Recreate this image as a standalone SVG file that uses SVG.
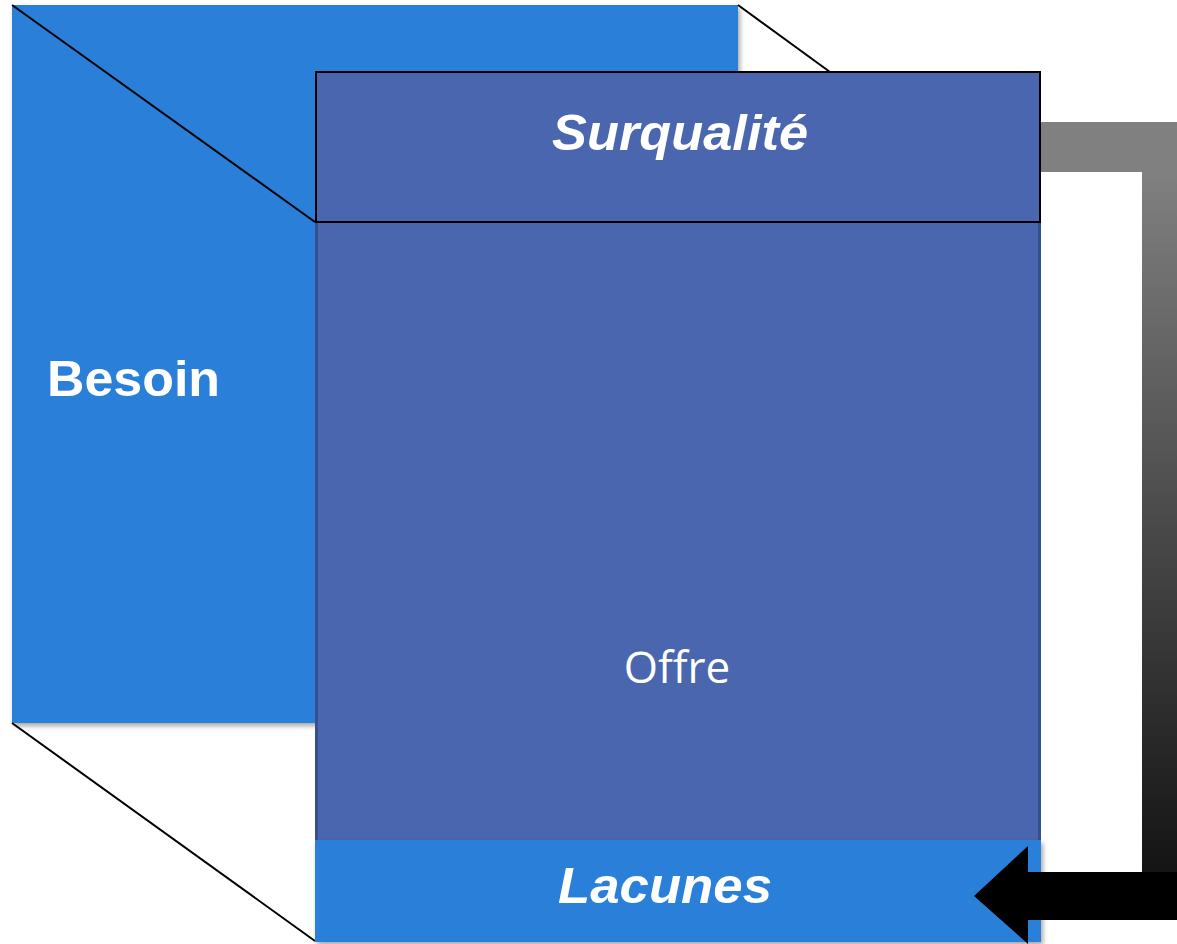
<svg xmlns="http://www.w3.org/2000/svg" width="1177" height="944" viewBox="0 0 1177 944">
  <defs>
    <filter id="shadow" x="-5%" y="-5%" width="115%" height="115%">
      <feDropShadow dx="2" dy="3" stdDeviation="2.5" flood-color="#000" flood-opacity="0.35"/>
    </filter>
    <linearGradient id="fade" gradientUnits="userSpaceOnUse" x1="0" y1="172" x2="0" y2="872">
      <stop offset="0" stop-color="#808080"/>
      <stop offset="1" stop-color="#141414"/>
    </linearGradient>
    <style>
      .bold { font-family: "Liberation Sans", Arial, sans-serif; font-weight: bold; fill: #fff; }
      .ital { font-style: italic; }
      .plain { font-family: "Open Sans", "Liberation Sans", sans-serif; fill: #fff; }
      .edge { stroke: #000; stroke-width: 2; fill: none; }
    </style>
  </defs>

  <rect width="1177" height="944" fill="#fff"/>

  <!-- back panel -->
  <g id="besoin">
    <rect x="12" y="5" width="726" height="718" fill="#2A7FD8" filter="url(#shadow)"/>
    <text class="bold" x="47" y="396" font-size="50" textLength="173" lengthAdjust="spacingAndGlyphs">Besoin</text>
  </g>

  <!-- perspective edges joining the two panels, plus the bent feedback arrow -->
  <g id="connectors">
    <line class="edge" x1="12" y1="5" x2="315" y2="222"/>
    <line class="edge" x1="738" y1="5" x2="830" y2="72"/>
    <line class="edge" x1="12" y1="723" x2="315" y2="941"/>
    <g id="feedback-arrow">
      <rect x="1041" y="122" width="151" height="50" fill="#808080"/>
      <rect x="1142" y="172" width="50" height="700" fill="url(#fade)"/>
    </g>
  </g>

  <!-- front panel -->
  <g id="offre">
    <rect x="316.5" y="73.5" width="723" height="770" fill="#4A66AF" stroke="#34508F" stroke-width="3"/>
    <text class="plain" x="677" y="683" font-size="44" text-anchor="middle">Offre</text>
  </g>

  <g id="surqualite">
    <rect x="316" y="72" width="724" height="150" fill="#4A66AF" stroke="#000" stroke-width="2"/>
    <text class="bold ital" x="552" y="150" font-size="50" textLength="256" lengthAdjust="spacingAndGlyphs">Surqualité</text>
  </g>

  <g id="lacunes">
    <rect x="315" y="840" width="726" height="102" fill="#2A7FD8" filter="url(#shadow)"/>
    <text class="bold ital" x="558" y="903" font-size="50" textLength="214" lengthAdjust="spacingAndGlyphs">Lacunes</text>
  </g>

  <!-- arrow head sits over the lower band -->
  <polygon id="arrow-head" points="1177,872 1028,872 1028,846 974,896 1028,944 1028,920 1177,920" fill="#000"/>
</svg>
